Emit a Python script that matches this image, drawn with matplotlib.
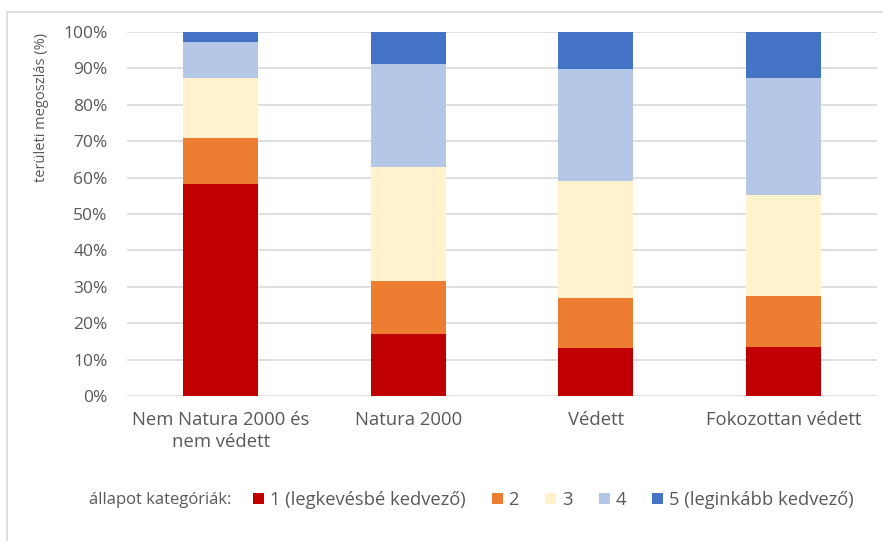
import matplotlib
matplotlib.use("Agg")
import matplotlib.pyplot as plt
from matplotlib.patches import Patch, Rectangle
import numpy as np

# Kategóriák és állapot-megoszlás (%), alulról felfelé 1..5
categories = ["Nem Natura 2000 és\nnem védett", "Natura 2000", "Védett", "Fokozottan védett"]
state_labels = ["1 (legkevésbé kedvező)", "2", "3", "4", "5 (leginkább kedvező)"]
cat1 = [58.2, 17.0, 13.3, 13.5]
cat2 = [12.7, 14.6, 13.5, 13.9]
cat3 = [16.5, 31.3, 32.2, 27.8]
cat4 = [9.9, 28.2, 30.7, 32.1]
cat5 = [2.7, 8.9, 10.3, 12.7]
yticks = [0, 10, 20, 30, 40, 50, 60, 70, 80, 90, 100]

COLORS = ["#C00000", "#ED7D31", "#FFF2CC", "#B4C7E7", "#4472C4"]
TEXT_GRAY = "#595959"
FONT = ["Open Sans", "DejaVu Sans"]

plt.rcParams["font.family"] = FONT

W, H = 883, 541
fig = plt.figure(figsize=(W / 100, H / 100), dpi=100)
ax = fig.add_axes([127 / W, 1 - 396 / H, 750 / W, 364 / H])

x = np.arange(len(categories))
bottom = np.zeros(len(categories))
for vals, col, lab in zip([cat1, cat2, cat3, cat4, cat5], COLORS, state_labels):
    v = np.asarray(vals, dtype=float)
    ax.bar(x, v, 0.4, bottom=bottom, color=col, label=lab, zorder=2, linewidth=0)
    bottom += v

ax.set_xlim(-0.5, len(categories) - 0.5)
ax.set_ylim(0, 100)
ax.set_yticks(yticks)
ax.set_yticklabels([f"{t}%" for t in yticks], fontsize=12.5, color=TEXT_GRAY)
ax.set_xticks(x)
ax.set_xticklabels(categories, fontsize=13.3, color=TEXT_GRAY, linespacing=1.25)
ax.tick_params(axis="both", length=0)
ax.tick_params(axis="y", pad=14)
ax.tick_params(axis="x", pad=11)
ax.yaxis.grid(True, color="#d9d9d9", linewidth=1.2, zorder=0)
ax.set_axisbelow(True)
for s in ax.spines.values():
    s.set_visible(False)

fig.text(42 / W, 1 - 107 / H, "területi megoszlás (%)", rotation=90,
         ha="center", va="center", fontsize=10.5, color=TEXT_GRAY)

# külső keret
fig.patches.append(Rectangle((7 / W, -0.1), 1.2, 1 - 12 / H + 0.1,
                             transform=fig.transFigure, fill=False,
                             edgecolor="#d9d9d9", linewidth=1.2))

fig.text(160 / W, 1 - 500 / H, "állapot kategóriák:", ha="center", va="center",
         fontsize=12, color=TEXT_GRAY)
handles = [Patch(facecolor=c, edgecolor="none") for c in COLORS]
fig.legend(handles, state_labels, loc="center left",
           bbox_to_anchor=(253 / W, 1 - 500 / H), ncol=5, frameon=False,
           fontsize=13.2, labelcolor=TEXT_GRAY, handlelength=0.6, handleheight=0.6,
           handletextpad=0.3, columnspacing=1.45, borderpad=0, borderaxespad=0)

fig.savefig("out.png", dpi=100)
